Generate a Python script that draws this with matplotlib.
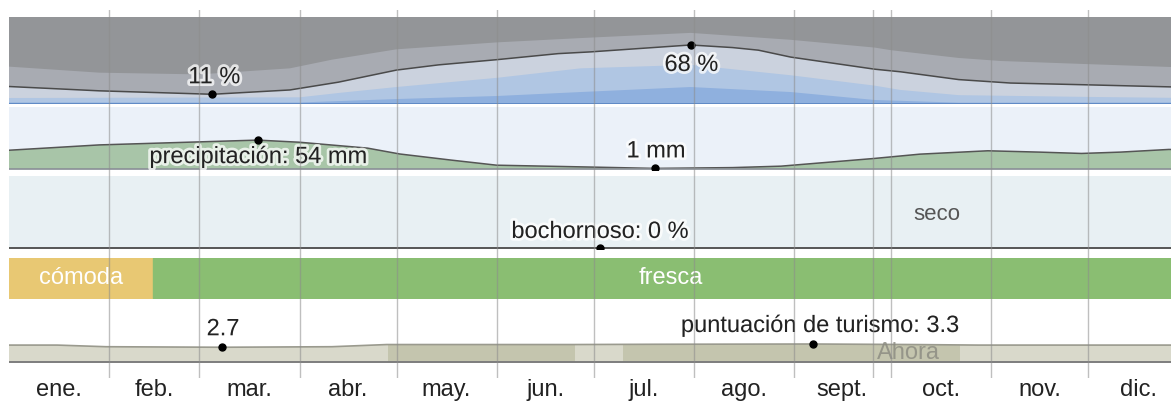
import matplotlib.pyplot as plt
import matplotlib.patheffects as pe
import numpy as np

plt.rcParams['font.family'] = ['Liberation Sans', 'DejaVu Sans']

# months
months = ['ene.', 'feb.', 'mar.', 'abr.', 'may.', 'jun.', 'jul.', 'ago.', 'sept.', 'oct.', 'nov.', 'dic.']
month_len = [31, 28, 31, 30, 31, 30, 31, 31, 30, 31, 30, 31]
now_day = 267.5

# cloud cover (% of time with clear/mostly clear/partly cloudy sky), day of year
cloud_days = [0, 28, 63, 87, 102, 120, 133, 151, 170, 180, 211, 224, 232, 242, 268, 276, 294, 310, 333, 360, 365]
cloud_line = [20, 15, 11, 16, 25, 39, 45, 51, 58, 60, 68, 65, 62, 54, 40, 37, 28, 24, 22, 19.5, 20]
overcast_days = [0, 28, 59, 87, 100, 120, 151, 177, 211, 242, 268, 273, 294, 307, 333, 360, 365]
overcast_top = [43, 36, 34, 41, 51, 63, 71, 76, 82, 74, 65, 62, 53, 49.5, 46, 42.5, 43]
lightblue_days = [0, 90, 102, 120, 151, 177, 211, 242, 268, 276, 294, 333, 365]
lightblue_top = [6.7, 7.5, 12.5, 19.4, 30, 41, 45, 33, 21, 16, 10, 8, 6.7]
blue_days = [0, 90, 120, 151, 177, 211, 242, 268, 294, 365]
blue_top = [1.5, 1.5, 5.5, 9, 13.6, 19.4, 13.6, 4.4, 1.3, 1.5]

# precipitation (mm)
precip_days = [0, 28, 77, 90, 111, 121, 137, 151, 181, 200, 224, 239, 268, 282, 303, 319, 332, 344, 359, 365]
precip_mm = [35, 45, 54, 50, 39, 28, 16.5, 7, 3.4, 1, 2.5, 5.2, 19.7, 27.7, 34, 31.5, 29, 31.5, 36.5, 36]

# humidity (% muggy)
humid_days = [0, 183, 365]
humid_pct = [0, 0, 0]

# comfort bands
comfort_labels = ['cómoda', 'fresca']
comfort_start = [0, 44.6]
comfort_end = [44.6, 365]
comfort_colors = ['#e8c873', '#8abe72']

# tourism score
tour_days = [0, 15, 30, 66, 100, 117, 150, 175, 200, 249, 280, 300, 330, 365]
tour_score = [3.1, 3.1, 2.8, 2.7, 2.8, 3.2, 3.2, 3.2, 3.25, 3.3, 3.2, 3.1, 3.1, 3.1]
best_start = [117.4, 190.1]
best_end = [175.2, 294.4]

W, H = 1171, 401
X0, PX_DAY = 8.8, 3.231
fig = plt.figure(figsize=(W / 100, H / 100), dpi=100)

halo = [pe.withStroke(linewidth=4, foreground='white', alpha=0.75)]
FS = 17


def panel(top, bottom, face='none'):
    ax = fig.add_axes([X0 / W, 1 - bottom / H, 365 * PX_DAY / W, (bottom - top) / H])
    ax.set_xlim(0, 365)
    ax.set_facecolor(face)
    ax.set_xticks([])
    ax.set_yticks([])
    for s in ax.spines.values():
        s.set_visible(False)
    return ax


def label_point(ax, x, y, text, dy, dx=0):
    ax.plot([x], [y], 'o', color='black', ms=5, zorder=6)
    ax.annotate(text, xy=(x, y), xytext=(dx, dy), textcoords='offset pixels',
                ha='center', va='center', fontsize=FS, color='#222222',
                path_effects=halo, zorder=7)


# cloud panel
ax = panel(17.3, 103.8, face='#939598')
ax.set_ylim(0, 100)
ax.fill_between(overcast_days, 0, overcast_top, color='#a8abb2', lw=0)
ax.fill_between(cloud_days, 0, cloud_line, color='#cbd2de', lw=0)
ax.fill_between(lightblue_days, 0, lightblue_top, color='#b0c6e3', lw=0)
ax.fill_between(blue_days, 0, blue_top, color='#8fb0de', lw=0)
ax.plot(cloud_days, cloud_line, color='#4a4a4a', lw=1.1)
ax.axhline(0, color='#5b86c4', lw=2)
i = int(np.argmin(cloud_line))
label_point(ax, cloud_days[i], cloud_line[i], f'{cloud_line[i]:g} %', 17, 2)
i = int(np.argmax(cloud_line))
label_point(ax, cloud_days[i], cloud_line[i], f'{cloud_line[i]:g} %', -20, 1)

# precipitation panel
ax = panel(107, 170, face='#ebf1f9')
ax.set_ylim(-2, 116)
ax.fill_between(precip_days, 0, precip_mm, color='#a8c5a8', lw=0)
ax.plot(precip_days, precip_mm, color='#555555', lw=1.1)
ax.axhline(0, color='#8a8f96', lw=1.2)
i = int(np.argmax(precip_mm))
label_point(ax, precip_days[i], precip_mm[i], f'precipitación: {precip_mm[i]:g} mm', -17, 1)
i = int(np.argmin(precip_mm))
label_point(ax, precip_days[i], precip_mm[i], f'{precip_mm[i]:g} mm', 17, 1)

# humidity panel
ax = panel(176, 249, face='#e8f0f3')
ax.set_ylim(-1.5, 100)
ax.plot(humid_days, humid_pct, color='#555555', lw=1.4)
label_point(ax, humid_days[1], humid_pct[1], f'bochornoso: {humid_pct[1]:g} %', 16)
ax.text(287.3, 46, 'seco', ha='center', va='center', fontsize=FS - 1, color='#555555')

# comfort band
ax = panel(258, 297.5)
ax.set_ylim(0, 1)
for lab, a, b, c in zip(comfort_labels, comfort_start, comfort_end, comfort_colors):
    ax.broken_barh([(a, b - a)], (0, 1), color=c)
    ax.text((a + b) / 2, 0.5, lab, ha='center', va='center', fontsize=FS, color='white')

# tourism panel
ax = panel(306, 363)
ax.set_ylim(-0.2, 10.3)
poly = ax.fill_between(tour_days, 0, tour_score, color='#d9d9cb', lw=0)
clip = poly.get_paths()[0]
for a, b in zip(best_start, best_end):
    span = ax.axvspan(a, b, ymin=0, ymax=1, color='#c4c5ae', lw=0)
    span.set_clip_path(clip, ax.transData)
ax.plot(tour_days, tour_score, color='#9a9a8e', lw=1.2)
ax.axhline(0, color='#7d7d7d', lw=1.4)
i = int(np.argmin(tour_score))
label_point(ax, tour_days[i], tour_score[i], f'{tour_score[i]:g}', 18, 1)
i = int(np.argmax(tour_score))
label_point(ax, tour_days[i], tour_score[i], f'puntuación de turismo: {tour_score[i]:g}', 18, 7)
ax.text(now_day + 1.2, 1.7, 'Ahora', ha='left', va='center', fontsize=FS, color='#8a8a80', alpha=0.8)

# grid overlay with month labels
ov = panel(10, 378)
ov.set_ylim(0, 1)
starts = np.concatenate([[0], np.cumsum(month_len)[:-1]])
centers = starts + np.array(month_len) / 2
for s in starts[1:]:
    ov.axvline(s, color='#8c8c8c', lw=1, alpha=0.55)
ov.axvline(now_day, color='#8c8c8c', lw=1, alpha=0.55)
ov.set_xticks(centers)
ov.set_xticklabels(months, fontsize=FS, color='#222222')
ov.tick_params(axis='x', length=0, pad=1)

fig.savefig('out.png', dpi=100)
